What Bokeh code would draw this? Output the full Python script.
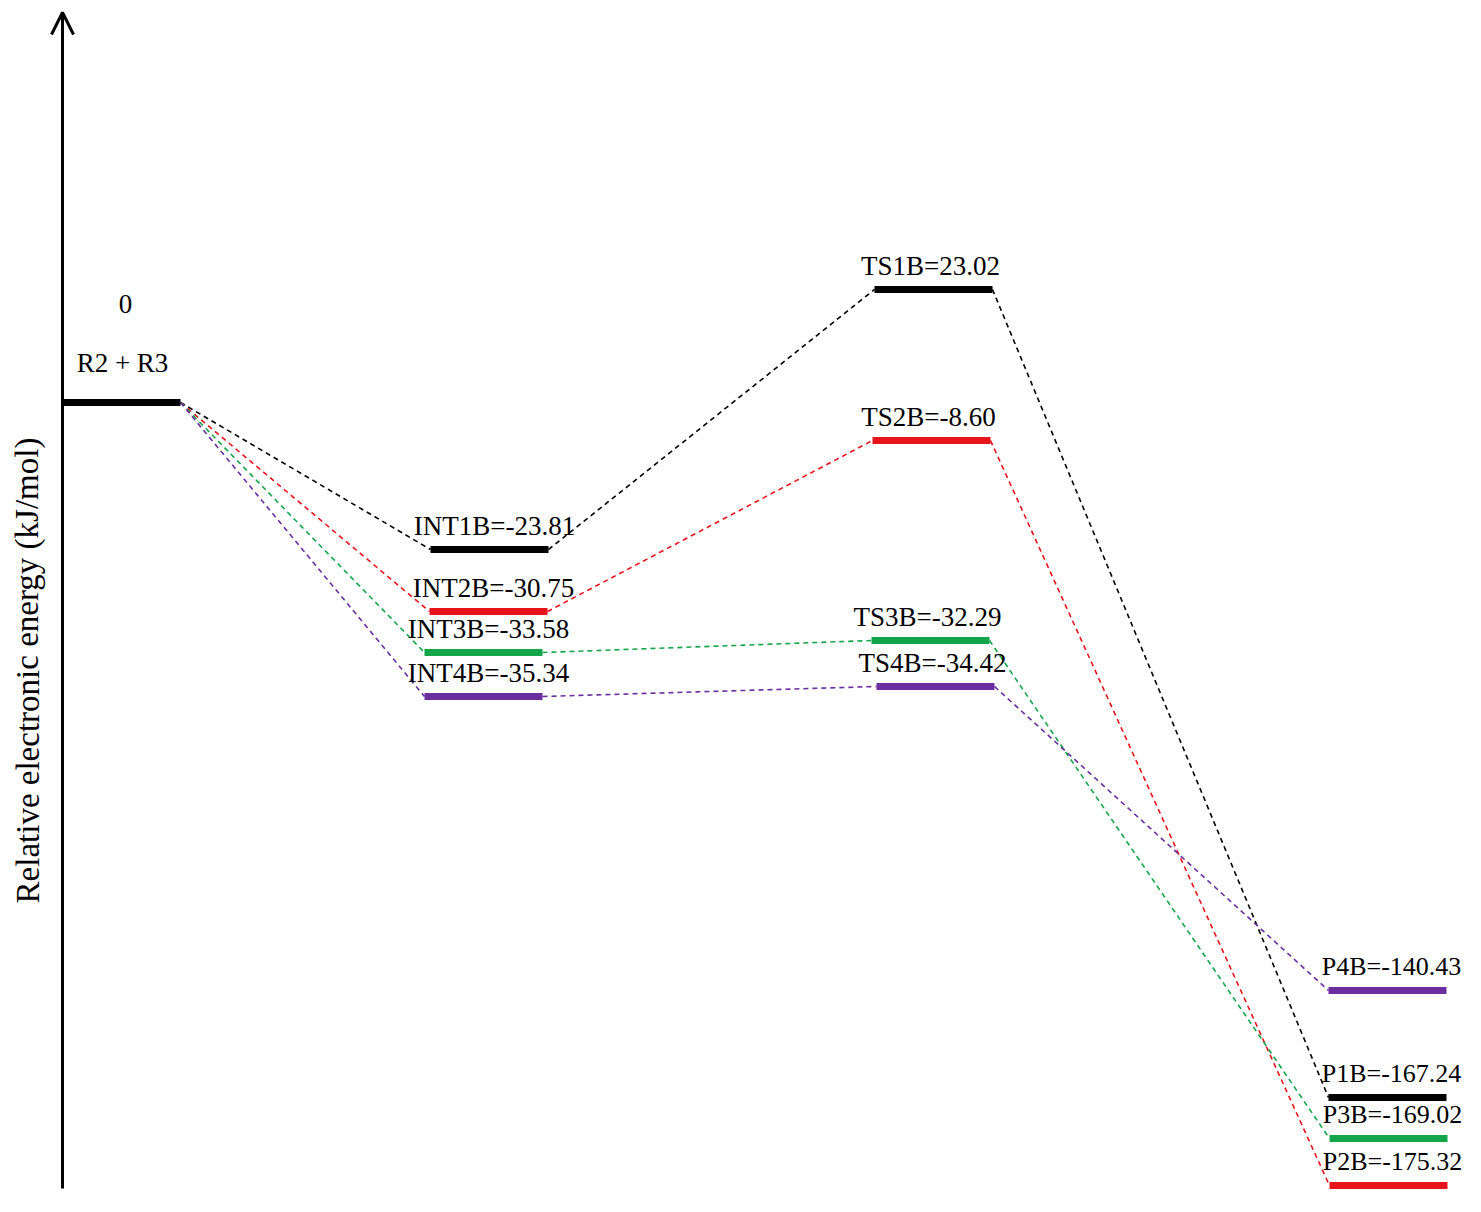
from bokeh.plotting import figure
from bokeh.models import Range1d, Arrow, OpenHead
from bokeh.core.properties import value
from bokeh.embed import file_html
from bokeh.resources import INLINE

# ---- data ----
pathways = ["1", "2", "3", "4"]
colors = ["#000000", "#e8141c", "#14a54b", "#6a2e9e"]
int_names = ["INT1B", "INT2B", "INT3B", "INT4B"]
int_energy = [-23.81, -30.75, -33.58, -35.34]
ts_names = ["TS1B", "TS2B", "TS3B", "TS4B"]
ts_energy = [23.02, -8.60, -32.29, -34.42]
p_names = ["P1B", "P2B", "P3B", "P4B"]
p_energy = [-167.24, -175.32, -169.02, -140.43]
reactant_name = "R2 + R3"
reactant_energy = 0

# schematic (not-to-scale) diagram levels
r_level = 402
int_level = [549, 611, 652, 696]
ts_level = [289, 440, 640, 686]
p_level = [1097, 1185, 1138, 990]
# stage centres along the reaction coordinate
r_x = 121
int_x = [489, 488, 483, 483]
ts_x = [933, 931, 930, 935]
p_x = [1387, 1388, 1388, 1387]

HALF = 59
FONT = value("Liberation Serif")

p = figure(width=1465, height=1196, output_backend="svg", toolbar_location=None,
           x_range=Range1d(0, 1465), y_range=Range1d(1196, 0), min_border=0)
p.axis.visible = False
p.grid.visible = False
p.outline_line_color = None

# vertical axis with arrow
p.add_layout(Arrow(end=OpenHead(size=22, line_width=3, line_color="black"),
                   x_start=62, y_start=1188, x_end=62, y_end=12,
                   line_width=3, line_color="black"))
p.text(x=[27], y=[670], text=["Relative electronic energy (kJ/mol)"], angle=1.5708,
       text_align="center", text_baseline="middle", text_font=FONT,
       text_font_size="33px", text_color="black")

# dashed connectors
for i in range(4):
    xs = [r_x + HALF, int_x[i] - HALF, int_x[i] + HALF, ts_x[i] - HALF,
          ts_x[i] + HALF, p_x[i] - HALF]
    ys = [r_level, int_level[i], int_level[i], ts_level[i], ts_level[i], p_level[i]]
    p.segment(x0=xs[0::2], y0=ys[0::2], x1=xs[1::2], y1=ys[1::2],
              line_color=colors[i], line_width=1.6, line_dash="5 4")

# energy level bars
p.segment(x0=[r_x - HALF + 1], y0=[r_level], x1=[r_x + HALF], y1=[r_level],
          line_color="black", line_width=7, line_cap="butt")
for xs, lv in [(int_x, int_level), (ts_x, ts_level), (p_x, p_level)]:
    p.segment(x0=[x - HALF for x in xs], y0=lv, x1=[x + HALF for x in xs], y1=lv,
              line_color=colors, line_width=7, line_cap="butt")

# labels
def fmt(e):
    return f"{e:.2f}"

for names, en, xs, lv, dx, fs in [(int_names, int_energy, int_x, int_level, 5, "27px"),
                                  (ts_names, ts_energy, ts_x, ts_level, -3, "27px"),
                                  (p_names, p_energy, p_x, p_level, 4, "26px")]:
    p.text(x=[x + dx for x in xs], y=[l - 24 for l in lv],
           text=[f"{n}={fmt(e)}" for n, e in zip(names, en)],
           text_align="center", text_baseline="middle",
           text_font=FONT, text_font_size=fs, text_color="black")
p.text(x=[r_x + 1, r_x + 4], y=[r_level - 40, r_level - 99],
       text=[reactant_name, str(reactant_energy)], text_align="center",
       text_baseline="middle", text_font=FONT, text_font_size="27px", text_color="black")

open("out.html", "w").write(file_html(p, INLINE))
